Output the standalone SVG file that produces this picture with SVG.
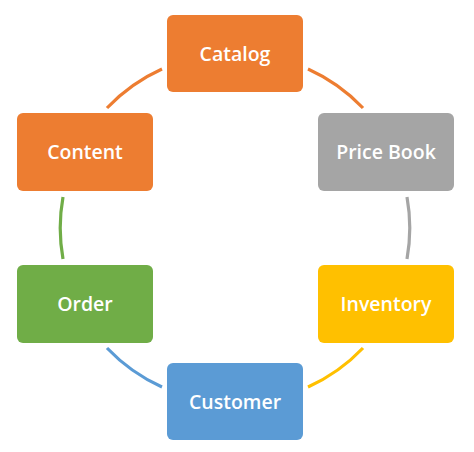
<svg xmlns="http://www.w3.org/2000/svg" width="474" height="452" viewBox="0 0 474 452">
<style>
.box{stroke:none}
.lbl{font-family:"Open Sans","Noto Sans","Liberation Sans",sans-serif;font-size:19.5px;font-weight:600;fill:#ffffff;text-anchor:middle;dominant-baseline:alphabetic}
.arc{fill:none;stroke-width:3.2;stroke-linecap:butt}
</style>
<rect width="474" height="452" fill="#ffffff"/>
<g id="connectors">
<path class="arc" stroke="#ED7D31" d="M 308 69 A 175 175 0 0 1 363 108"/>
<path class="arc" stroke="#ED7D31" d="M 107 108 A 175 175 0 0 1 162 69"/>
<path class="arc" stroke="#A5A5A5" d="M 407 197 A 175 175 0 0 1 407 259"/>
<path class="arc" stroke="#FFC000" d="M 363 348 A 175 175 0 0 1 308 387"/>
<path class="arc" stroke="#5B9BD5" d="M 162 387 A 175 175 0 0 1 107 348"/>
<path class="arc" stroke="#70AD47" d="M 63 259 A 175 175 0 0 1 63 197"/>
</g>
<g id="catalog">
<rect class="box" x="167" y="15" width="136" height="77" rx="6" fill="#ED7D31"/>
<text class="lbl" x="235" y="61">Catalog</text>
</g>
<g id="content">
<rect class="box" x="17" y="113" width="136" height="78" rx="6" fill="#ED7D31"/>
<text class="lbl" x="85" y="159">Content</text>
</g>
<g id="pricebook">
<rect class="box" x="318" y="113" width="136" height="78" rx="6" fill="#A5A5A5"/>
<text class="lbl" x="386" y="159">Price Book</text>
</g>
<g id="order">
<rect class="box" x="17" y="265" width="136" height="78" rx="6" fill="#70AD47"/>
<text class="lbl" x="85" y="311">Order</text>
</g>
<g id="inventory">
<rect class="box" x="318" y="265" width="136" height="78" rx="6" fill="#FFC000"/>
<text class="lbl" x="386" y="311">Inventory</text>
</g>
<g id="customer">
<rect class="box" x="167" y="363" width="136" height="77" rx="6" fill="#5B9BD5"/>
<text class="lbl" x="235" y="409">Customer</text>
</g>
</svg>
